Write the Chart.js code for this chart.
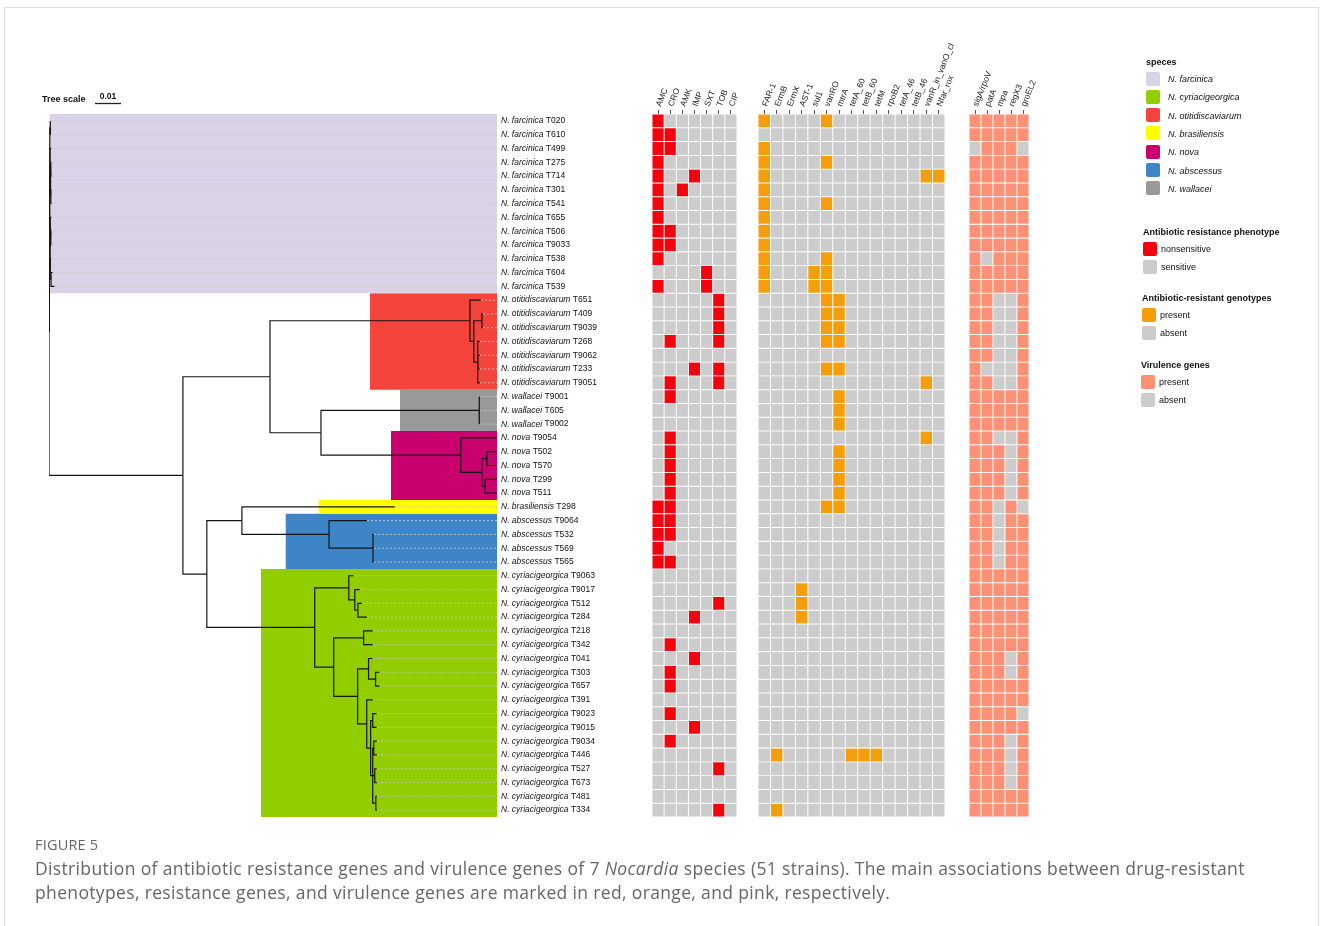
<!DOCTYPE html>
<html lang="en">
<head>
<meta charset="UTF-8">
<title>Figure 5 - Nocardia resistance and virulence</title>
<script src="https://cdn.jsdelivr.net/npm/chart.js@4.4.1/dist/chart.umd.min.js"></script>
<style>
  body { margin: 0; background: #fff; font-family: "Liberation Sans", Arial, sans-serif; }
  #page { position: relative; width: 1328px; height: 926px; overflow: hidden; background: #fff; }
  .frame { position: absolute; left: 4px; top: 7px; width: 1313px; height: 960px; border: 1px solid #dedede; }
  .layer { position: absolute; left: 0; top: 0; }
  .lg { position: absolute; font-size: 9px; color: #111; white-space: nowrap; line-height: 1; transform: translateY(-50%); }
  .lg.title { font-weight: bold; }
  .lg.it { font-style: italic; }
  .sw { position: absolute; width: 14px; height: 14px; border-radius: 2px; }
  .fig { position: absolute; left: 35px; top: 835px; font-family: "Open Sans", sans-serif; font-size: 14.5px; color: #666; letter-spacing: 0.2px; }
  .cap { position: absolute; left: 35px; top: 857px; font-family: "Open Sans", sans-serif; font-size: 17.5px; line-height: 23.5px; color: #666; letter-spacing: 0.35px; white-space: nowrap; }
</style>
</head>
<body>
<div id="page">
  <div class="frame"></div>
  <canvas id="tree" class="layer" width="1328" height="926"></canvas>
  <canvas id="pheno" class="layer" width="1328" height="926"></canvas>
  <canvas id="geno" class="layer" width="1328" height="926"></canvas>
  <canvas id="vir" class="layer" width="1328" height="926"></canvas>
  <div id="legend"></div>
  <div class="fig">FIGURE 5</div>
  <div class="cap">Distribution of antibiotic resistance genes and virulence genes of 7 <i>Nocardia</i> species (51 strains). The main associations between drug-resistant<br>phenotypes, resistance genes, and virulence genes are marked in red, orange, and pink, respectively.</div>
</div>
<script>
// ---- data ----
const strains = ['T020', 'T610', 'T499', 'T275', 'T714', 'T301', 'T541', 'T655', 'T506', 'T9033', 'T538', 'T604', 'T539',
  'T651', 'T409', 'T9039', 'T268', 'T9062', 'T233', 'T9051',
  'T9001', 'T605', 'T9002',
  'T9054', 'T502', 'T570', 'T299', 'T511',
  'T298',
  'T9064', 'T532', 'T569', 'T565',
  'T9063', 'T9017', 'T512', 'T284', 'T218', 'T342', 'T041', 'T303', 'T657', 'T391', 'T9023', 'T9015', 'T9034', 'T446', 'T527', 'T673', 'T481', 'T334'];

const treeSpecies = ['N. farcinica', 'N. otitidiscaviarum', 'N. wallacei', 'N. nova', 'N. brasiliensis', 'N. abscessus', 'N. cyriacigeorgica'];
const treeSpeciesCounts = [13, 7, 3, 5, 1, 4, 18];
const legendSpecies = ['N. farcinica', 'N. cyriacigeorgica', 'N. otitidiscaviarum', 'N. brasiliensis', 'N. nova', 'N. abscessus', 'N. wallacei'];

// branch lengths (substitutions per site)
const treeNewick =
  '(' +
    '((T020:0.0002,T610:0.0003):0.0001,(T499:0.0004,((T275:0.0002,T714:0.0003):0.0002,(T301:0.0002,T541:0.0003):0.0002):0.0001):0.0001,' +
      '((T655:0.0004,(T506:0.0002,T9033:0.0002):0.0002):0.0001,(T538:0.0003,(T604:0.0006,T539:0.0013):0.0003):0.0001):0.0001):0.0003,' +
    '(' +
      '((T651:0.0042,((T409:0.0004,T9039:0.0004):0.0031,(T268:0.0008,T9062:0.0008,T233:0.0008,T9051:0.0008):0.0015):0.0015):0.0769,' +
       '((T9001:0.0002,T605:0.0002,T9002:0.0002):0.0608,' +
        '(T9054:0.0138,((T502:0.0038,T570:0.0038):0.0019,(T299:0.0046,T511:0.0046):0.0012):0.0081):0.0538):0.0196):0.0335,' +
      '((T298:0.0588,(T9064:0.0146,(T532:0.0004,T569:0.0004,T565:0.0004):0.0169):0.0335):0.0135,' +
       '((T9063:0.0019,(T9017:0.0019,(T512:0.0015,T284:0.0035):0.0012):0.0023):0.0131,' +
        '((T218:0.0035,T342:0.0035):0.0115,' +
         '((T041:0.0015,(T303:0.0015,T657:0.0015):0.0027):0.0042,' +
          '(T391:0.0023,((T9023:0.0015,T9015:0.0015):0.0008,((T9034:0.0012,T446:0.0012):0.0004,(T527:0.0008,T673:0.0008):0.0008,(T481:0.0004,T334:0.0004):0.0012):0.0008):0.0015):0.0035):0.0092):0.0073):0.0415):0.0092' +
    '):0.0515' +
  ');';
const treeScaleValue = 0.01;

const phenoCols = ['AMC', 'CRO', 'AMK', 'IMP', 'SXT', 'TOB', 'CIP'];
const phenoRows = ['1000000', '1100000', '1100000', '1000000', '1001000', '1010000', '1000000', '1000000', '1100000', '1100000', '1000000', '0000100', '1000100',
  '0000010', '0000010', '0000010', '0100010', '0000000', '0001010', '0100010',
  '0100000', '0000000', '0000000',
  '0100000', '0100000', '0100000', '0100000', '0100000',
  '1100000',
  '1100000', '1100000', '1000000', '1100000',
  '0000000', '0000000', '0000010', '0001000', '0000000', '0100000', '0001000', '0100000', '0100000', '0000000', '0100000', '0001000', '0100000', '0000000', '0000010', '0000000', '0000000', '0000010'];

const genoCols = ['FAR-1', 'ErmB', 'ErmX', 'AST-1', 'sul1', 'vanRO', 'mtrA', 'tetA_60', 'tetB_60', 'tetM', 'rpoB2', 'tetA_46', 'tetB_46', 'vanR_in_vanO_cl', 'Nfar_rox'];
const genoRows = ['100001000000000', '000000000000000', '100000000000000', '100001000000000', '100000000000011', '100000000000000', '100001000000000', '100000000000000', '100000000000000', '100000000000000', '100001000000000', '100011000000000', '100011000000000',
  '000001100000000', '000001100000000', '000001100000000', '000001100000000', '000000000000000', '000001100000000', '000000000000010',
  '000000100000000', '000000100000000', '000000100000000',
  '000000000000010', '000000100000000', '000000100000000', '000000100000000', '000000100000000',
  '000001100000000',
  '000000000000000', '000000000000000', '000000000000000', '000000000000000',
  '000000000000000', '000100000000000', '000100000000000', '000100000000000', '000000000000000', '000000000000000', '000000000000000', '000000000000000', '000000000000000', '000000000000000', '000000000000000', '000000000000000', '000000000000000', '010000011100000', '000000000000000', '000000000000000', '000000000000000', '010000000000000'];

const virCols = ['sigA/rpoV', 'patA', 'mpa', 'regX3', 'groEL2'];
const virRows = ['11111', '11111', '01110', '11111', '11111', '11111', '11111', '11111', '11111', '11111', '10111', '11111', '11111',
  '11001', '11001', '11001', '11001', '11001', '10001', '11001',
  '11111', '11111', '11111',
  '11001', '11101', '11101', '11101', '11101',
  '11010',
  '11011', '11011', '11011', '11011',
  '11111', '11111', '11111', '11111', '11111', '11111', '11101', '11101', '11111', '11111', '11110', '11111', '11101', '11101', '11101', '11101', '11111', '11111'];

// ---- styles ----
const speciesColors = {
  'N. farcinica': '#dad3e8',
  'N. cyriacigeorgica': '#92cd00',
  'N. otitidiscaviarum': '#f5443c',
  'N. brasiliensis': '#ffff00',
  'N. nova': '#c9016f',
  'N. abscessus': '#3d85c6',
  'N. wallacei': '#999999'
};
const offColor = '#cccccc';
const redColor = '#f5030c';
const orangeColor = '#f59e0c';
const pinkColor = '#fe9075';
const FONT = '"Liberation Sans", Arial, sans-serif';
Chart.defaults.font.family = FONT;

const rowSpecies = [];
treeSpecies.forEach((sp, k) => { for (let i = 0; i < treeSpeciesCounts[k]; i++) rowSpecies.push(sp); });

// ---- tree ----
function parseNewick(s) {
  let i = 0;
  function node() {
    const n = { children: [], name: '', len: 0 };
    if (s[i] === '(') {
      i++;
      n.children.push(node());
      while (s[i] === ',') { i++; n.children.push(node()); }
      i++; // ')'
    }
    let name = '';
    while (i < s.length && !',():;'.includes(s[i])) name += s[i++];
    n.name = name.trim();
    if (s[i] === ':') {
      i++;
      let num = '';
      while (i < s.length && !',();'.includes(s[i])) num += s[i++];
      n.len = parseFloat(num);
    }
    return n;
  }
  return node();
}

const treeRoot = parseNewick(treeNewick);
const nodes = [];
(function walk(n, parent, depth) {
  n.parent = parent;
  n.x = parent ? depth + n.len : 0;
  nodes.push(n);
  if (n.children.length) {
    n.children.forEach(c => walk(c, n, n.x));
    const first = n.children[0], last = n.children[n.children.length - 1];
    n.lo = first.lo; n.hi = last.hi;
    n.y = (first.y + last.y) / 2;
  } else {
    n.y = strains.indexOf(n.name);
    n.lo = n.hi = n.y;
  }
})(treeRoot, null, 0);
const tips = nodes.filter(n => !n.children.length);
const xMax = Math.max(...tips.map(t => t.x));

const treeDatasets = [];
// clade background ranges
let rowStart = 0;
treeSpecies.forEach((sp, k) => {
  const lo = rowStart, hi = rowStart + treeSpeciesCounts[k] - 1;
  rowStart = hi + 1;
  const node = nodes.find(n => n.lo === lo && n.hi === hi);
  const x0 = (node.parent.x + node.x) / 2;
  treeDatasets.push({
    data: [{ x: x0, y: lo - 0.5 }, { x: xMax, y: lo - 0.5 }],
    fill: { value: hi + 0.5 },
    backgroundColor: speciesColors[sp],
    borderColor: 'rgba(0,0,0,0)',
    borderWidth: 0,
    order: 3
  });
});
// dotted leader lines to labels
tips.forEach(t => {
  treeDatasets.push({
    data: [{ x: t.x, y: t.y }, { x: xMax, y: t.y }],
    borderColor: 'rgba(200,200,200,0.85)',
    borderWidth: 1,
    borderDash: [2, 2],
    order: 2
  });
});
// branches
nodes.filter(n => n.parent).forEach(n => {
  treeDatasets.push({
    data: [{ x: n.parent.x, y: n.parent.y }, { x: n.parent.x, y: n.y }, { x: n.x, y: n.y }],
    borderColor: '#151515',
    borderWidth: 1.2,
    borderJoinStyle: 'miter',
    order: 1
  });
});

const treeText = {
  id: 'treeText',
  afterDatasetsDraw(chart) {
    const { ctx, chartArea, scales: { x, y } } = chart;
    ctx.save();
    ctx.fillStyle = '#111';
    ctx.textBaseline = 'middle';
    ctx.textAlign = 'left';
    strains.forEach((s, i) => {
      const py = y.getPixelForValue(i);
      let px = chartArea.right + 4;
      ctx.font = 'italic 8.5px ' + FONT;
      ctx.fillText(rowSpecies[i], px, py);
      px += ctx.measureText(rowSpecies[i] + ' ').width;
      ctx.font = '8.5px ' + FONT;
      ctx.fillText(s, px, py);
    });
    // tree scale bar
    const barLen = x.getPixelForValue(treeScaleValue) - x.getPixelForValue(0);
    ctx.font = 'bold 9px ' + FONT;
    ctx.fillText('Tree scale', 42, 100);
    ctx.textAlign = 'center';
    ctx.font = 'bold 8.5px ' + FONT;
    ctx.fillText(String(treeScaleValue), 95 + barLen / 2, 97);
    ctx.strokeStyle = '#222';
    ctx.lineWidth = 1.3;
    ctx.beginPath();
    ctx.moveTo(95, 103.5);
    ctx.lineTo(95 + barLen, 103.5);
    ctx.stroke();
    ctx.restore();
  }
};

new Chart(document.getElementById('tree'), {
  type: 'line',
  data: { datasets: treeDatasets },
  options: {
    responsive: false,
    animation: false,
    events: [],
    elements: { point: { radius: 0 }, line: { tension: 0, borderCapStyle: 'butt' } },
    layout: { padding: { left: 49, right: 1328 - 497, top: 114, bottom: 926 - 817 } },
    scales: {
      x: { type: 'linear', min: 0, max: xMax, display: false },
      y: { type: 'linear', min: -0.5, max: strains.length - 0.5, reverse: true, display: false }
    },
    plugins: { legend: { display: false }, tooltip: { enabled: false } }
  },
  plugins: [treeText]
});

// ---- heatmaps ----
function drawHeatmap(canvasId, columns, rows, onColor, left, right) {
  const datasets = rows.map((r, ri) => {
    const vals = r.split('').map(Number);
    return {
      data: vals.map(() => [ri - 0.5, ri + 0.5]),
      backgroundColor: vals.map(v => (v ? onColor : offColor)),
      borderColor: '#ffffff',
      borderWidth: 0.8,
      borderSkipped: false,
      barPercentage: 1,
      categoryPercentage: 1,
      grouped: false
    };
  });
  new Chart(document.getElementById(canvasId), {
    type: 'bar',
    data: { labels: columns, datasets },
    options: {
      responsive: false,
      animation: false,
      events: [],
      layout: { padding: { left, right: 1328 - right, top: 0, bottom: 926 - 817 } },
      scales: {
        x: {
          position: 'top',
          offset: true,
          grid: { offset: false, drawOnChartArea: false, drawTicks: true, tickLength: 4, color: '#555', lineWidth: 1 },
          border: { display: false },
          ticks: { minRotation: 68, maxRotation: 68, autoSkip: false, padding: 2, labelOffset: 10, color: '#222', font: { size: 8.5 } },
          afterFit: s => { s.height = 114; }
        },
        y: { type: 'linear', min: -0.5, max: strains.length - 0.5, reverse: true, display: false }
      },
      plugins: { legend: { display: false }, tooltip: { enabled: false } }
    }
  });
}

drawHeatmap('pheno', phenoCols, phenoRows, redColor, 652, 737);
drawHeatmap('geno', genoCols, genoRows, orangeColor, 758, 945);
drawHeatmap('vir', virCols, virRows, pinkColor, 969, 1029);

// ---- legend ----
const legendEl = document.getElementById('legend');
function addText(txt, x, y, cls) {
  const d = document.createElement('div');
  d.className = 'lg ' + cls;
  d.style.left = x + 'px';
  d.style.top = y + 'px';
  d.textContent = txt;
  legendEl.appendChild(d);
}
function addSwatch(color, x, y) {
  const d = document.createElement('div');
  d.className = 'sw';
  d.style.left = x + 'px';
  d.style.top = y + 'px';
  d.style.background = color;
  legendEl.appendChild(d);
}
function legendBlock(title, entries, x, titleY, firstTop, italic) {
  addText(title, x + 1, titleY, 'title');
  entries.forEach((e, i) => {
    const top = firstTop + i * 18.3;
    addSwatch(e[1], x + 1, top);
    addText(e[0], x + (italic ? 23 : 19), top + 7.5, italic ? 'it' : '');
  });
}
legendBlock('speces', legendSpecies.map(s => [s, speciesColors[s]]), 1145, 62, 71.5, true);
legendBlock('Antibiotic resistance phenotype', [['nonsensitive', redColor], ['sensitive', offColor]], 1142, 232, 241.5, false);
legendBlock('Antibiotic-resistant genotypes', [['present', orangeColor], ['absent', offColor]], 1141, 298, 307.5, false);
legendBlock('Virulence genes', [['present', pinkColor], ['absent', offColor]], 1140, 364.5, 374.5, false);
</script>
</body>
</html>
